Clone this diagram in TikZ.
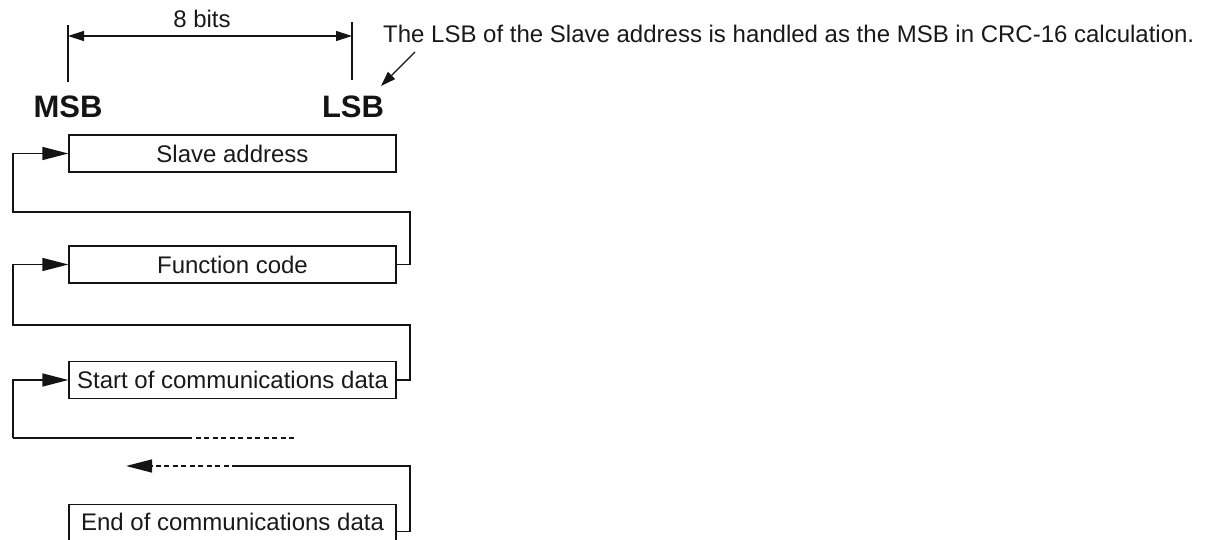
\documentclass[tikz,border=0pt]{standalone}
\usepackage{fontspec}
\setmainfont{Liberation Sans}
\usetikzlibrary{arrows.meta,calc}
\begin{document}
\begin{tikzpicture}[x=1pt,y=-1pt,
  ink/.style={draw=black!92, line width=1.5pt},
  databox/.style={draw=black!92, line width=1.3pt, minimum width=327pt, minimum height=37pt, inner sep=0pt, text=black!90, font=\fontsize{24}{27}\selectfont},
  feed/.style={ink, -{Triangle[length=26pt,width=13pt]}},
  dimarrow/.style={line width=1.4pt, draw=black!92, {Triangle[length=16pt,width=10pt]}-{Triangle[length=16pt,width=10pt]}},
  note/.style={ink, line width=1.2pt, -{Triangle[length=15pt,width=10pt]}},
  gap/.style={ink, dash pattern=on 5pt off 3.5pt},
  lbl/.style={text=black!90, inner sep=0pt, font=\fontsize{24}{27}\selectfont},
  bitlbl/.style={text=black!92, inner sep=0pt, font=\fontsize{31}{34}\selectfont\bfseries}
]
\useasboundingbox (0,0) rectangle (1205,540);

% bit width dimension
\coordinate (mt) at (68,25);
\coordinate (mb) at (68,82);
\coordinate (lt) at (352,22);
\coordinate (lb) at (352,80);
\coordinate (md) at (68,36);
\coordinate (ld) at (352,36);
\draw[ink] (mt) -- (mb);
\draw[ink] (lt) -- (lb);
\draw[dimarrow] (md) -- (ld);
\node[lbl, anchor=base] (bits) at (202,28) {8 bits};
\node[bitlbl, anchor=base] (msb) at (68,118) {MSB};
\node[bitlbl, anchor=base] (lsb) at (353,118) {LSB};

% note
\node[lbl, anchor=base west] (txt) at (383,43) {The LSB of the Slave address is handled as the MSB in CRC-16 calculation.};
\coordinate (n1) at (415,52);
\coordinate (n2) at (381,86);
\draw[note] (n1) -- (n2);

% boxes
\node[databox] (sa) at (232.5,153.5) {Slave address};
\node[databox] (fc) at (232.5,264.5) {Function code};
\node[databox] (stb) at (232.5,380) {Start of communications data};
\node[databox, minimum height=40pt, anchor=north] (eb) at (232.5,504) {\raisebox{5pt}{End of communications data}};

% loops
\coordinate (r1) at (410,212);
\coordinate (l1) at (13,212);
\draw[feed] (fc.east) -| (r1) -- (l1) |- (sa.west);
\coordinate (r2) at (410,325);
\coordinate (l2) at (13,325);
\draw[feed] (stb.east) -| (r2) -- (l2) |- (fc.west);

% open ends
\coordinate (l3) at (13,438);
\coordinate (s3) at (187,438);
\coordinate (e3) at (297,438);
\draw[feed] (l3) |- (stb.west);
\draw[ink] (l3) -- (s3);
\draw[gap] (s3) -- (e3);

\coordinate (r4) at (410,466);
\coordinate (s4) at (237,466);
\coordinate (e4) at (126,466);
\draw[ink] ([yshift=-7pt]eb.east) -| (r4) -- (s4);
\draw[gap, -{Triangle[length=26pt,width=13pt]}] (s4) -- (e4);
\end{tikzpicture}
\end{document}
